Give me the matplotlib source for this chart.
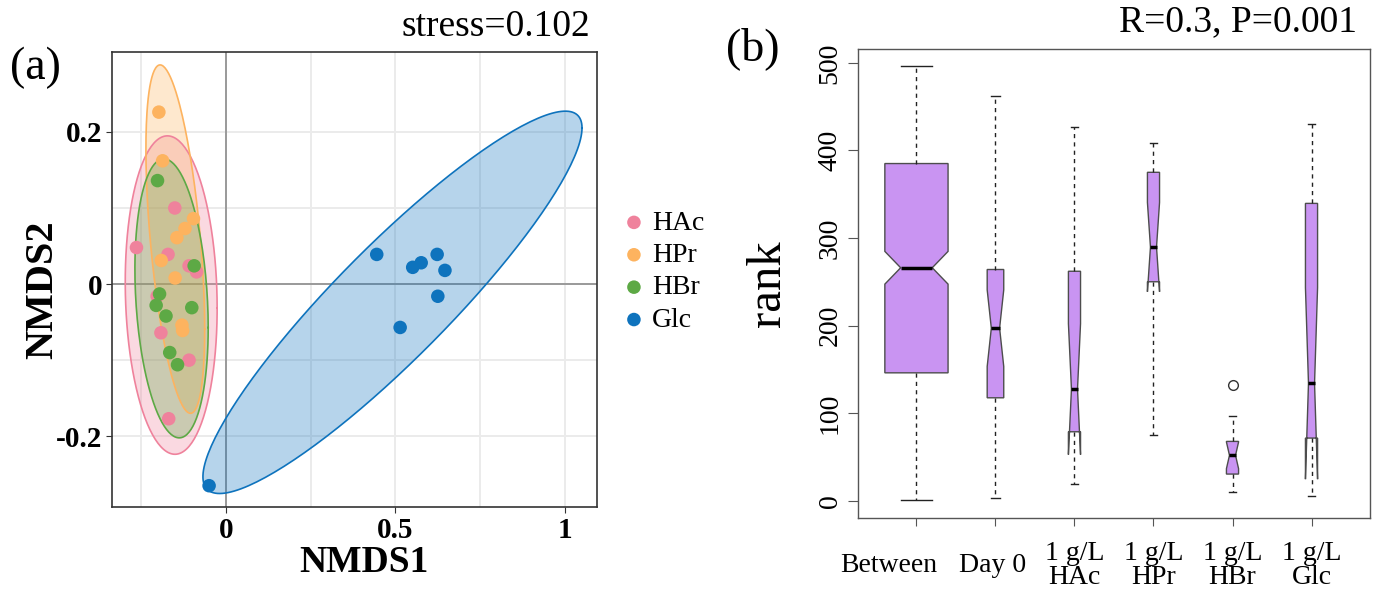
import numpy as np
import matplotlib.pyplot as plt
from matplotlib.transforms import ScaledTranslation

plt.rcParams['font.family'] = ['Liberation Serif', 'DejaVu Serif']

# ---- (a) NMDS scores ----
groups = ['HAc', 'HPr', 'HBr', 'Glc']
colors = ['#EF829C', '#FDB35F', '#5DA945', '#0E73BD']

hac_x = [-0.263, -0.150, -0.170, -0.108, -0.086, -0.202, -0.191, -0.108, -0.168]
hac_y = [0.048, 0.100, 0.039, 0.024, 0.016, -0.016, -0.064, -0.100, -0.177]
hpr_x = [-0.197, -0.186, -0.095, -0.120, -0.144, -0.190, -0.149, -0.129, -0.127]
hpr_y = [0.226, 0.162, 0.086, 0.073, 0.061, 0.031, 0.008, -0.054, -0.061]
hbr_x = [-0.201, -0.093, -0.195, -0.205, -0.100, -0.176, -0.165, -0.142]
hbr_y = [0.136, 0.024, -0.013, -0.028, -0.031, -0.042, -0.090, -0.106]
glc_x = [0.445, 0.551, 0.576, 0.623, 0.646, 0.625, 0.514, -0.049]
glc_y = [0.039, 0.022, 0.028, 0.039, 0.018, -0.016, -0.057, -0.265]
stress = 0.102

# ---- (b) ANOSIM rank boxplot ----
box_labels = ['Between', 'Day 0', '1 g/L\nHAc', '1 g/L\nHPr', '1 g/L\nHBr', '1 g/L\nGlc']
n_pairs = [408, 28, 15, 15, 15, 15]
q1 = [146, 117.5, 78.7, 250, 30.4, 71.5]
med = [266, 197, 127.4, 289.6, 51.8, 133.9]
q3 = [385, 264, 262, 375, 67.7, 339.5]
whis_lo = [1, 3, 19, 75, 9.6, 5.7]
whis_hi = [496, 462.6, 426.5, 408.6, 97, 430.5]
outliers = [[], [], [], [], [132], []]
anosim_r, anosim_p = 0.3, 0.001


def ellipse_xy(x, y, conf=0.95, npts=200):
    pts = np.column_stack([x, y])
    c = pts.mean(axis=0)
    L = np.linalg.cholesky(np.cov(pts, rowvar=False))
    r = np.sqrt(-2 * np.log(1 - conf))
    t = np.linspace(0, 2 * np.pi, npts)
    e = c[:, None] + r * L @ np.vstack([np.cos(t), np.sin(t)])
    return e[0], e[1]


fig = plt.figure(figsize=(13.73, 5.89), dpi=100)

# ================= panel (a) =================
ax = fig.add_axes([0.0816, 0.1392, 0.3532, 0.7725])
data = [(hac_x, hac_y), (hpr_x, hpr_y), (hbr_x, hbr_y), (glc_x, glc_y)]

ax.set_xlim(-0.335, 1.094)
ax.set_ylim(-0.293, 0.305)
ax.set_xticks([0, 0.5, 1])
ax.set_xticklabels(['0', '0.5', '1'], fontweight='bold')
ax.set_yticks([-0.2, 0, 0.2])
ax.set_yticklabels(['-0.2', '0', '0.2'], fontweight='bold')
ax.set_xticks([-0.25, 0.25, 0.75], minor=True)
ax.set_yticks([-0.1, 0.1], minor=True)
ax.grid(True, which='both', color='#EBEBEB', lw=1.4, zorder=0)
ax.set_axisbelow(True)
ax.tick_params(which='major', length=4, color='#333333', labelsize=21, pad=3)
ax.tick_params(which='minor', length=0)
ax.axhline(0, color='#999999', lw=1.4, zorder=1)
ax.axvline(0, color='#999999', lw=1.4, zorder=1)
for s in ax.spines.values():
    s.set_color('#333333')
    s.set_linewidth(1.2)

for (gx, gy), col in zip(data, colors):
    ex, ey = ellipse_xy(gx, gy)
    ax.fill(ex, ey, color=col, alpha=0.3, lw=0, zorder=2)
    ax.plot(ex, ey, color=col, lw=1.2, zorder=3)
for (gx, gy), col, name in zip(data, colors, groups):
    ax.scatter(gx, gy, s=95, color=col, edgecolors='none', zorder=4, label=name)

fig.legend(loc='center left', bbox_to_anchor=(0.4516, 0.539), frameon=False,
           fontsize=20, handlelength=1.0, handletextpad=0.15, labelspacing=0.25,
           borderpad=0, borderaxespad=0)

fig.text(0.265, 0.0458, 'NMDS1', fontsize=27, fontweight='bold', ha='center', va='center')
fig.text(0.0313, 0.508, 'NMDS2', fontsize=29, fontweight='bold', ha='center', va='center',
         rotation=90)
fig.text(0.4297, 0.9389, 'stress=%.3f' % stress, fontsize=27, ha='right', va='baseline')
fig.text(0.0255, 0.8846, '(a)', fontsize=33, ha='center', va='center')

# ================= panel (b) =================
bx = fig.add_axes([0.6249, 0.1205, 0.3729, 0.7963])
stats = []
for i in range(len(box_labels)):
    half = 1.58 * (q3[i] - q1[i]) / np.sqrt(n_pairs[i])
    stats.append(dict(med=med[i], q1=q1[i], q3=q3[i], whislo=whis_lo[i],
                      whishi=whis_hi[i], fliers=outliers[i],
                      cilo=med[i] - half, cihi=med[i] + half))
widths = 0.8 * np.sqrt(np.array(n_pairs) / max(n_pairs))
pos = np.arange(1, len(box_labels) + 1)
bx.bxp(stats, positions=pos, widths=widths, shownotches=True, patch_artist=True,
       boxprops=dict(facecolor='#C994F2', edgecolor='#4D4D4D', lw=1),
       medianprops=dict(color='black', lw=2.5),
       whiskerprops=dict(color='#222222', lw=1, linestyle=(0, (3, 3))),
       capprops=dict(color='#222222', lw=1),
       flierprops=dict(marker='o', mfc='none', mec='#333333', ms=7))

bx.set_xlim(0.26, 6.74)
bx.set_ylim(-19.8, 515.8)
bx.set_yticks([0, 100, 200, 300, 400, 500])
bx.set_yticklabels(['0', '100', '200', '300', '400', '500'], rotation=90, va='center')
bx.set_xticks(pos)
bx.set_xticklabels(box_labels, va='center', linespacing=0.95)
bx.tick_params(axis='y', length=7, color='#555555', labelsize=20, pad=4)
bx.tick_params(axis='x', length=6, color='#555555', labelsize=20, pad=28)
label_shift = [-28, -3, 0, 0, 0, 0]
for lbl, dx in zip(bx.get_xticklabels(), label_shift):
    lbl.set_transform(lbl.get_transform() + ScaledTranslation(dx / 100, 0, fig.dpi_scale_trans))
for s in bx.spines.values():
    s.set_color('#555555')
    s.set_linewidth(1)

fig.text(0.559, 0.519, 'rank', fontsize=35, ha='center', va='center', rotation=90)
fig.text(0.9884, 0.947, 'R=%.1f, P=%.3f' % (anosim_r, anosim_p), fontsize=27,
         ha='right', va='baseline')
fig.text(0.5484, 0.918, '(b)', fontsize=33, ha='center', va='center')

fig.savefig('out.png', dpi=100)
